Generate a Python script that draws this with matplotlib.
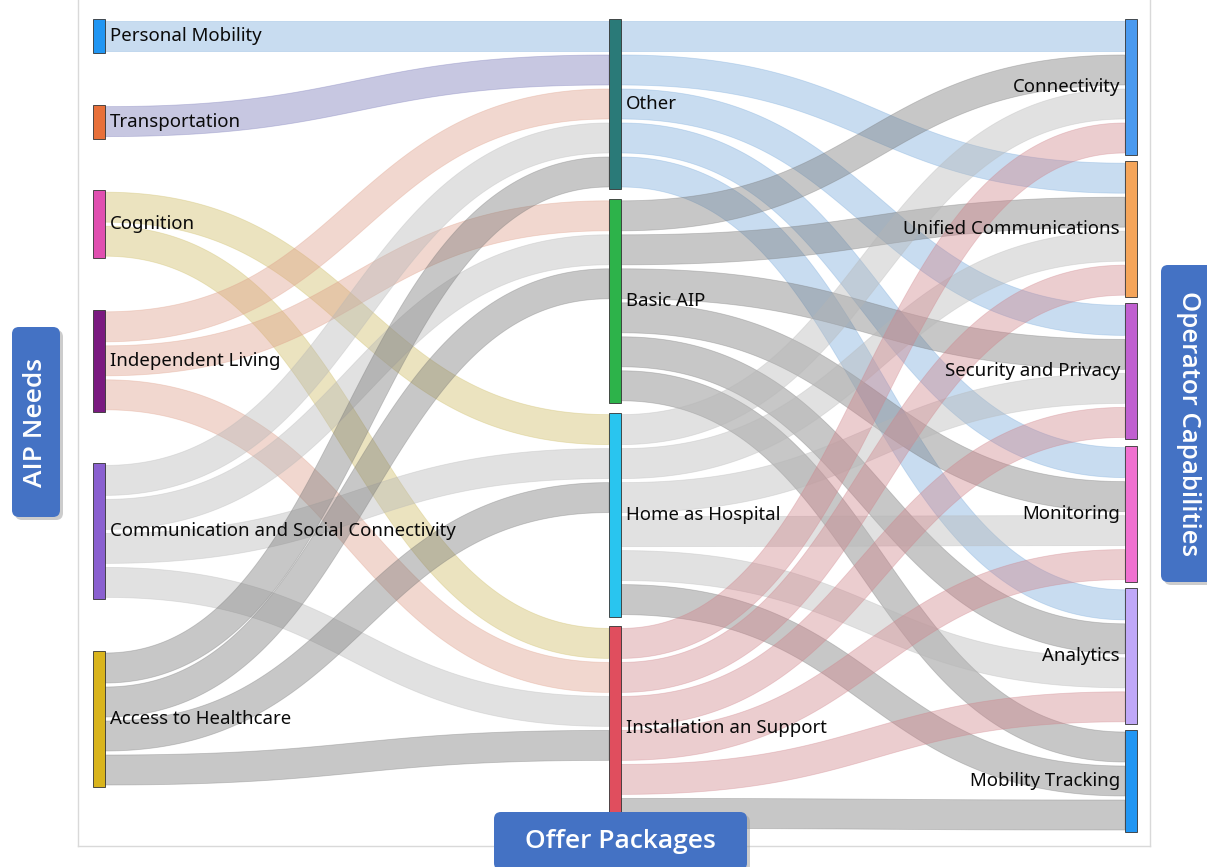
import numpy as np
import matplotlib
matplotlib.use("Agg")
import matplotlib.pyplot as plt
from matplotlib.patches import Polygon, Rectangle, FancyBboxPatch
from matplotlib.colors import to_rgba

# ---------------- data ----------------
needs = ["Personal Mobility", "Transportation", "Cognition", "Independent Living",
         "Communication and Social Connectivity", "Access to Healthcare"]
packages = ["Other", "Basic AIP", "Home as Hospital", "Installation an Support"]
capabilities = ["Connectivity", "Unified Communications", "Security and Privacy",
                "Monitoring", "Analytics", "Mobility Tracking"]

need_colors = ["#2196F3", "#E8703A", "#E04FB0", "#7A1A80", "#8A60D0", "#D9B41C"]
package_colors = ["#2A7A78", "#2DB34A", "#29C5EF", "#E04E5E"]
capability_colors = ["#4A9AF0", "#F5A55A", "#C060D0", "#F070D0", "#C0A8F8", "#2196F3"]

# AIP Needs -> Offer Packages
np_source = ["Personal Mobility", "Transportation",
             "Cognition", "Cognition",
             "Independent Living", "Independent Living", "Independent Living",
             "Communication and Social Connectivity", "Communication and Social Connectivity",
             "Communication and Social Connectivity", "Communication and Social Connectivity",
             "Access to Healthcare", "Access to Healthcare", "Access to Healthcare", "Access to Healthcare"]
np_target = ["Other", "Other",
             "Home as Hospital", "Installation an Support",
             "Other", "Basic AIP", "Installation an Support",
             "Other", "Basic AIP", "Home as Hospital", "Installation an Support",
             "Other", "Basic AIP", "Home as Hospital", "Installation an Support"]
np_value = [1] * 15
np_link_colors = ["#76A8DA", "#7575B6",
                  "#CDBB61", "#CDBB61",
                  "#DE9D87", "#DE9D87", "#DE9D87",
                  "#B6B6B6", "#B6B6B6", "#B6B6B6", "#B6B6B6",
                  "#757575", "#757575", "#757575", "#757575"]

# Offer Packages -> Operator Capabilities
pc_source = ["Other"] * 5 + ["Basic AIP"] * 6 + ["Home as Hospital"] * 6 + ["Installation an Support"] * 6
pc_target = capabilities[:5] + capabilities + capabilities + capabilities
pc_value = [1] * 23
pc_link_colors = (["#76A8DA"] * 5 + ["#757575"] * 6 +
                  ["#B6B6B6"] * 5 + ["#757575"] +
                  ["#CF8289"] * 5 + ["#757575"])

# ---------------- layout (styling) ----------------
W, H = 1207, 867
fig = plt.figure(figsize=(W / 100, H / 100), dpi=100)
ax = fig.add_axes([0, 0, 1, 1])
ax.set_xlim(0, W)
ax.set_ylim(H, 0)
ax.axis("off")

columns = [needs, packages, capabilities]
col_colors = [need_colors, package_colors, capability_colors]
col_x = [93, 609, 1125]
col_gap = [51.6, 9.8, 6.2]
node_w = 12
top = 19
unit = 34.0
inset = 2.0
link_alpha = 0.4

all_links = []
for s, t, v, c in zip(np_source, np_target, np_value, np_link_colors):
    all_links.append(dict(s=s, t=t, v=v, c=c))
for s, t, v, c in zip(pc_source, pc_target, pc_value, pc_link_colors):
    all_links.append(dict(s=s, t=t, v=v, c=c))

col_of = {}
idx_of = {}
for ci, col in enumerate(columns):
    for i, n in enumerate(col):
        col_of[n] = ci
        idx_of[n] = i

node_val = {}
for col in columns:
    for n in col:
        vin = sum(l["v"] for l in all_links if l["t"] == n)
        vout = sum(l["v"] for l in all_links if l["s"] == n)
        node_val[n] = max(vin, vout)

node_y = {}
for ci, col in enumerate(columns):
    y = top
    for n in col:
        node_y[n] = y
        y += node_val[n] * unit + col_gap[ci]

# link slot positions
for n in node_val:
    outs = sorted([l for l in all_links if l["s"] == n], key=lambda l: idx_of[l["t"]])
    y = node_y[n]
    for l in outs:
        l["y0"] = y + l["v"] * unit / 2
        y += l["v"] * unit
    ins = sorted([l for l in all_links if l["t"] == n], key=lambda l: idx_of[l["s"]])
    y = node_y[n]
    for l in ins:
        l["y1"] = y + l["v"] * unit / 2
        y += l["v"] * unit


def band(x0, y0, x1, y1, w):
    t = np.linspace(0, 1, 160)
    xm = (x0 + x1) / 2
    P0, P1, P2, P3 = np.array([x0, y0]), np.array([xm, y0]), np.array([xm, y1]), np.array([x1, y1])
    pts = ((1 - t) ** 3)[:, None] * P0 + (3 * (1 - t) ** 2 * t)[:, None] * P1 + \
          (3 * (1 - t) * t ** 2)[:, None] * P2 + (t ** 3)[:, None] * P3
    d = (3 * (1 - t) ** 2)[:, None] * (P1 - P0) + (6 * (1 - t) * t)[:, None] * (P2 - P1) + \
        (3 * t ** 2)[:, None] * (P3 - P2)
    nrm = np.stack([-d[:, 1], d[:, 0]], axis=1)
    nrm /= np.linalg.norm(nrm, axis=1)[:, None]
    a = pts + nrm * w / 2
    b = pts - nrm * w / 2
    return np.vstack([a, b[::-1]])


for l in all_links:
    x0 = col_x[col_of[l["s"]]] + node_w
    x1 = col_x[col_of[l["t"]]]
    w = l["v"] * unit - 2 * inset
    poly = band(x0, l["y0"], x1, l["y1"], w)
    ax.add_patch(Polygon(poly, closed=True, facecolor=to_rgba(l["c"], link_alpha),
                         edgecolor=to_rgba(l["c"], 0.35), linewidth=0.6, zorder=2))

# nodes and labels
label_font = dict(family=["Noto Sans", "DejaVu Sans"], fontsize=13.4, color="#0A0A0A")
for ci, col in enumerate(columns):
    for n, c in zip(col, col_colors[ci]):
        y0 = node_y[n]
        h = node_val[n] * unit
        ax.add_patch(Rectangle((col_x[ci], y0), node_w, h, facecolor=c,
                               edgecolor="#333333", linewidth=0.6, zorder=3))
        yc = y0 + h / 2
        if ci < 2:
            ax.text(col_x[ci] + node_w + 5, yc, n, ha="left", va="center", zorder=4, **label_font)
        else:
            ax.text(col_x[ci] - 5, yc, n, ha="right", va="center", zorder=4, **label_font)

# frame
fc = "#D9D9D9"
ax.plot([78, 78], [0, 846], color=fc, lw=1, zorder=1)
ax.plot([78, 1150], [846, 846], color=fc, lw=1, zorder=1)
ax.plot([1150, 1150], [0, 846], color=fc, lw=1, zorder=1)

# title boxes
box_c = "#4472C4"


def tag(x, y, w, h, text, rot, size):
    ax.add_patch(FancyBboxPatch((x + 3, y + 3), w, h, boxstyle="round,pad=0,rounding_size=7",
                                facecolor="#9A9A9A", edgecolor="none", alpha=0.5, zorder=5))
    ax.add_patch(FancyBboxPatch((x, y), w, h, boxstyle="round,pad=0,rounding_size=7",
                                facecolor=box_c, edgecolor="none", zorder=6))
    ax.text(x + w / 2, y + h / 2, text, rotation=rot, ha="center", va="center",
            rotation_mode="anchor", zorder=7, family=["Open Sans", "DejaVu Sans"],
            color="white", fontsize=size, fontweight="semibold")


tag(12, 327, 48, 190, "AIP Needs", 90, 19)
tag(1161, 265, 55, 317, "Operator Capabilities", -90, 18.5)
tag(494, 812, 253, 58, "Offer Packages", 0, 19)

fig.savefig("out.png", dpi=100)
